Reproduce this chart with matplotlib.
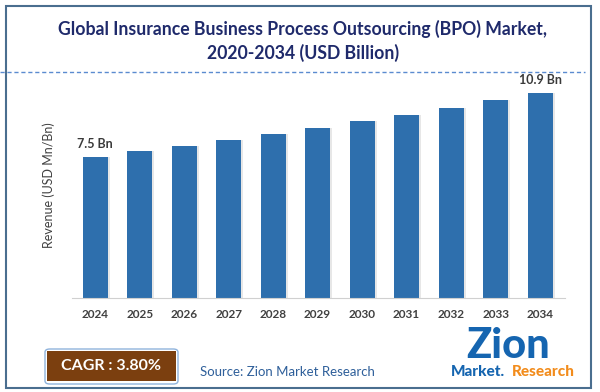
import matplotlib.pyplot as plt
from matplotlib.patches import Rectangle, FancyBboxPatch
from matplotlib.lines import Line2D

# --- data ---
years = ['2024', '2025', '2026', '2027', '2028', '2029', '2030', '2031', '2032', '2033', '2034']
revenue = [7.5, 7.78, 8.08, 8.39, 8.71, 9.04, 9.38, 9.74, 10.11, 10.49, 10.9]
bar_labels = {0: '7.5 Bn', 10: '10.9 Bn'}

TITLE = 'Global Insurance Business Process Outsourcing (BPO) Market,\n2020-2034 (USD Billion)'
BAR_COLOR = '#2e6fad'
FONT = ['Lato', 'DejaVu Sans']

plt.rcParams['font.family'] = FONT

fig = plt.figure(figsize=(6, 3.92), dpi=100)
ax = fig.add_axes([72 / 600, 1 - 298 / 392, (565 - 72) / 600, (298 - 72) / 392])

x = range(len(years))
# soft shadow behind bars
ax.bar([i + 0.05 for i in x], revenue, width=0.56, color='#d0d0d0', alpha=0.5, zorder=1)
ax.bar(x, revenue, width=0.56, color=BAR_COLOR, zorder=2)

for i, txt in bar_labels.items():
    ax.text(i, revenue[i] + 0.35, txt, ha='center', va='bottom', fontsize=9,
            fontweight='bold', color='#3a3a3a')

ax.set_xlim(-0.52, 10.56)
ax.set_ylim(0, 12)
ax.set_xticks(list(x))
ax.set_xticklabels(years, fontsize=8.5, fontweight='bold', color='#404040')
ax.set_yticks([])
ax.tick_params(axis='x', length=0, pad=8)
for s in ['top', 'right', 'left']:
    ax.spines[s].set_visible(False)
ax.spines['bottom'].set_color('#d0d0d0')
ax.set_ylabel('Revenue (USD Mn/Bn)', fontsize=9, color='#404040', labelpad=12)

# title
fig.text(0.505, 1 - 41 / 392, TITLE, ha='center', va='center', fontsize=12.7,
         fontweight='bold', color='#1f2a6b', linespacing=1.35)

# dashed separator
fig.add_artist(Line2D([0, 585 / 600], [1 - 72 / 392] * 2, color='#5b8bd0',
                      lw=1, ls=(0, (3, 2))))

# outer frame
fig.add_artist(Rectangle((6 / 600, 1 - 388 / 392), 585 / 600, 382 / 392,
                         fill=False, ec='#4a6e8f', lw=1.5))

# CAGR box
fig.add_artist(FancyBboxPatch((45 / 600, 1 - 384 / 392), 133 / 600, 35 / 392,
                              boxstyle='round,pad=0,rounding_size=0.008',
                              fc='white', ec='#8fb3dc', lw=1))
fig.add_artist(Rectangle((47 / 600, 1 - 381 / 392), 129 / 600, 30 / 392,
                         fc='#7b3f0f', ec='none'))
fig.text(111 / 600, 1 - 366 / 392, 'CAGR : 3.80%', ha='center', va='center',
         fontsize=11.5, fontweight='bold', color='white')

fig.text(200 / 600, 1 - 372 / 392, 'Source: Zion Market Research', ha='left',
         va='center', fontsize=9.5, color='#2e5f9a')

# logo
fig.text(508 / 600, 1 - 346 / 392, 'Zion', ha='center', va='center', fontsize=30,
         fontweight='black', color='#1565b0')
fig.text(478 / 600, 1 - 372 / 392, 'Market.', ha='center', va='center', fontsize=11,
         fontweight='black', color='#1565b0')
fig.text(543 / 600, 1 - 372 / 392, 'Research', ha='center', va='center', fontsize=11,
         fontweight='black', color='#f28c1c')

fig.savefig('out.png', dpi=100)
